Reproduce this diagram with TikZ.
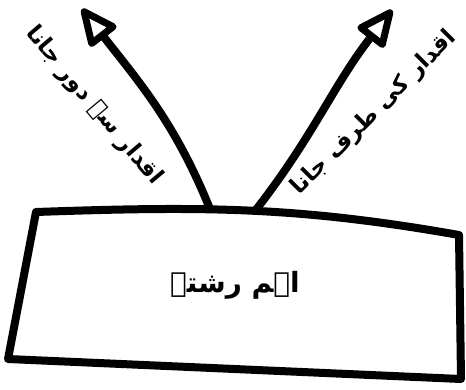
\documentclass[tikz,border=0pt]{standalone}
\usepackage{fontspec}
\newfontfamily\arabicfont[Script=Arabic]{DejaVu Sans}
\TeXXeTstate=1
\usetikzlibrary{arrows.meta}

\tikzset{
  sketch/.style={line width=8bp, line cap=round, line join=round},
  valuearrow/.style={sketch,
    -{Triangle[open, round, length=42bp, width=36bp, line width=7bp]}},
  urdu/.style={font=\arabicfont\bfseries\fontsize{23}{26}\selectfont},
}

\begin{document}
\begin{tikzpicture}[x=1bp, y=1bp]
  \useasboundingbox (0,0) rectangle (466,389);
  % the box, drawn by hand
  \draw[sketch] (36,177) to[out=2, in=170] (459,154) -- (461,10)
    -- (8,30) -- cycle;
  \node[font=\arabicfont\bfseries\fontsize{28}{32}\selectfont] (core)
    at (235,104) {\beginR اہم رشتے\endR};

  \coordinate (awayFoot) at (210,180);
  \coordinate (awayTip) at (82,380);
  \coordinate (towardFoot) at (255,178);
  \coordinate (towardTip) at (392,379);
  \draw[valuearrow] (awayFoot) to[out=112, in=-52] (awayTip);
  \draw[valuearrow] (towardFoot) to[out=52, in=-128] (towardTip);

  \node[urdu, rotate=-50] (awayLbl) at (94,283)
    {\beginR اقدار سے دور جانا\endR};
  \node[urdu, rotate=45] (towardLbl) at (374,276)
    {\beginR اقدار کی طرف جانا\endR};
\end{tikzpicture}
\end{document}
